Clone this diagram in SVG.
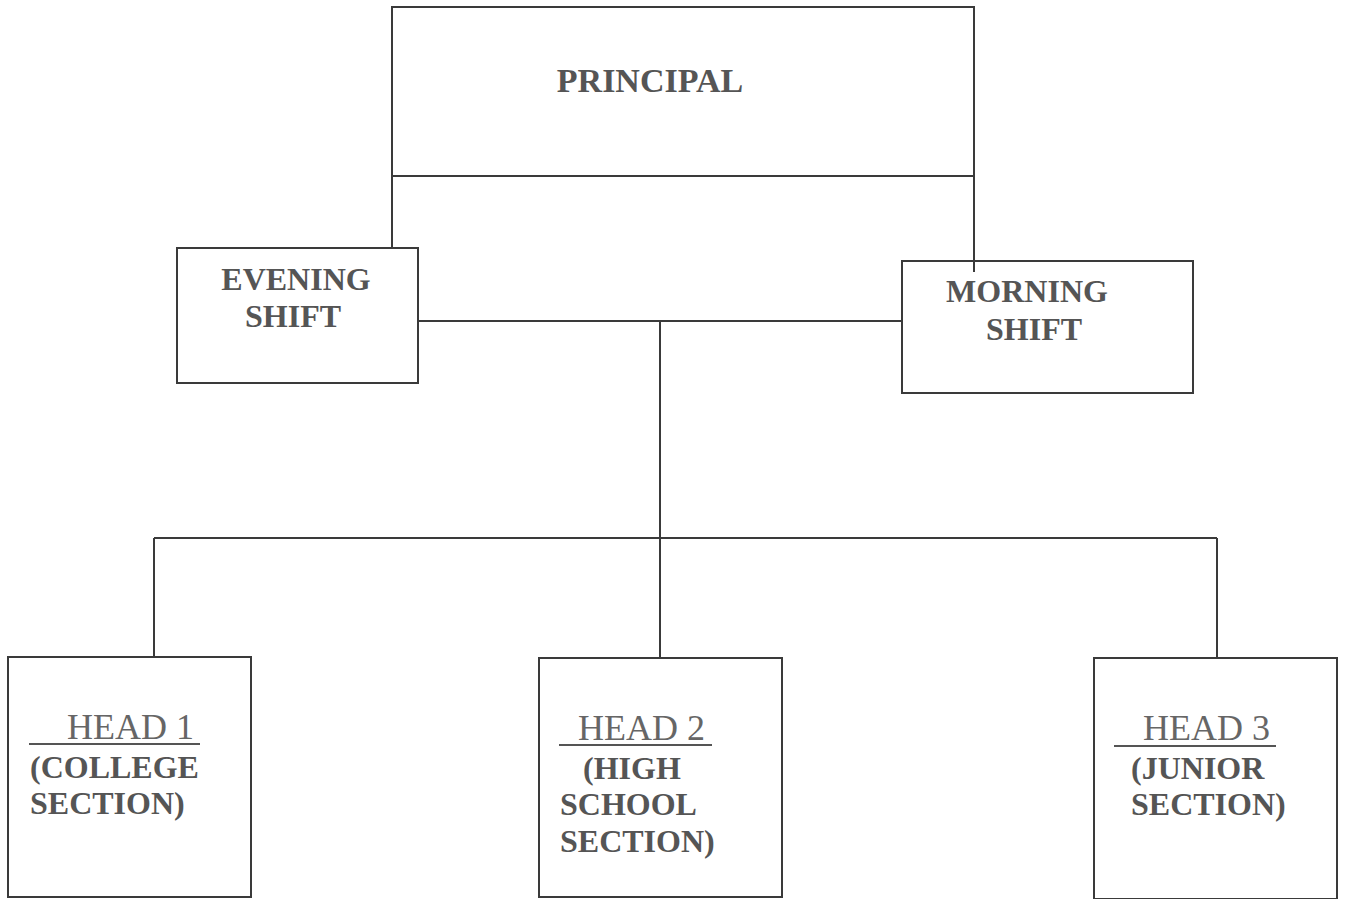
<svg xmlns="http://www.w3.org/2000/svg" width="1346" height="899" viewBox="0 0 1346 899">
<style>
.box{fill:#fff;stroke:#3a3a3a;stroke-width:2}
.ln{fill:none;stroke:#3a3a3a;stroke-width:2}
.b{font-family:"Liberation Serif","Times New Roman",serif;font-weight:bold;font-size:32px;fill:#555}
.h{font-family:"Liberation Serif","Times New Roman",serif;font-size:36px;fill:#666}
.u{stroke:#555;stroke-width:2}
</style>
<rect width="1346" height="899" fill="#fff"/>
<g id="connectors">
<path class="ln" d="M392 176V248M974 176V270M418 321H902M660 321V658M154 538H1217M154 538V657M1217 538V658"/>
</g>
<g id="principal">
<rect class="box" x="392" y="7" width="582" height="169"/>
<text class="b" x="650" y="92" text-anchor="middle" style="font-size:34px">PRINCIPAL</text>
</g>
<g id="evening">
<rect class="box" x="177" y="248" width="241" height="135"/>
<text class="b" x="296" y="290" text-anchor="middle">EVENING</text>
<text class="b" x="293" y="327" text-anchor="middle">SHIFT</text>
</g>
<g id="morning">
<rect class="box" x="902" y="261" width="291" height="132"/>
<path class="ln" d="M974 261V272"/>
<text class="b" x="1027" y="302" text-anchor="middle">MORNING</text>
<text class="b" x="1034" y="340" text-anchor="middle">SHIFT</text>
</g>
<g id="head1">
<rect class="box" x="8" y="657" width="243" height="240"/>
<text class="h" x="67" y="739">HEAD 1</text>
<line class="u" x1="29" y1="744" x2="200" y2="744"/>
<text class="b" x="30" y="778">(COLLEGE</text>
<text class="b" x="30" y="814">SECTION)</text>
</g>
<g id="head2">
<rect class="box" x="539" y="658" width="243" height="239"/>
<text class="h" x="578" y="740">HEAD 2</text>
<line class="u" x1="559" y1="745" x2="712" y2="745"/>
<text class="b" x="583" y="779">(HIGH</text>
<text class="b" x="560" y="815">SCHOOL</text>
<text class="b" x="560" y="852">SECTION)</text>
</g>
<g id="head3">
<rect class="box" x="1094" y="658" width="243" height="241"/>
<text class="h" x="1143" y="740">HEAD 3</text>
<line class="u" x1="1114" y1="746" x2="1276" y2="746"/>
<text class="b" x="1131" y="779">(JUNIOR</text>
<text class="b" x="1131" y="815">SECTION)</text>
</g>
</svg>
